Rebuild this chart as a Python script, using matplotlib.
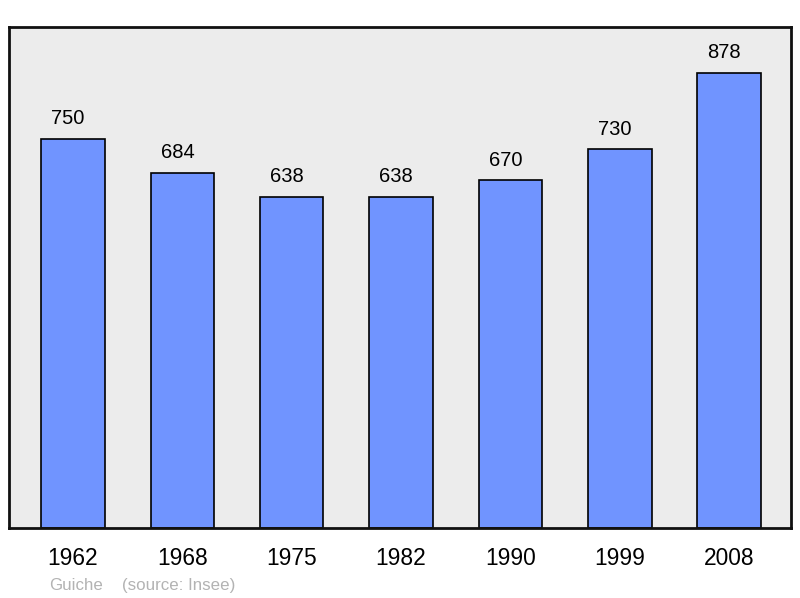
import matplotlib
matplotlib.use("Agg")
import matplotlib.pyplot as plt

years = ["1962", "1968", "1975", "1982", "1990", "1999", "2008"]
population = [750, 684, 638, 638, 670, 730, 878]
author = "Guiche"
source = "(source: Insee)"

plt.rcParams['font.family'] = ['Liberation Sans', 'DejaVu Sans']

fig = plt.figure(figsize=(8, 5.98), dpi=100)
ax = fig.add_axes([9/800, 1-528/598, 782/800, 501/598])
ax.set_facecolor('#ececec')

x = list(range(len(years)))
bars = ax.bar(x, population, width=0.58, color='#7094ff', edgecolor='black', linewidth=1.2, zorder=2)
for xi, v in zip(x, population):
    ax.annotate(str(v), (xi, v), xytext=(-3.5, 10.6), textcoords='offset points',
                ha='center', va='baseline', fontsize=14.5, color='black')

ax.set_xlim(-0.585, 6.565)
ax.set_ylim(0, max(population) * 1.1)
ax.set_xticks(x)
ax.set_xticklabels(years, fontsize=16.4)
ax.tick_params(axis='x', length=0, pad=14)
ax.set_yticks([])
for s in ax.spines.values():
    s.set_linewidth(2)
    s.set_color('#111111')

fig.text(49/800, 1-590/598, author, fontsize=12.2, color='#b3b3b3', ha='left', va='baseline')
fig.text(122/800, 1-590/598, source, fontsize=12.2, color='#b3b3b3', ha='left', va='baseline')

fig.savefig('out.png', dpi=100)
